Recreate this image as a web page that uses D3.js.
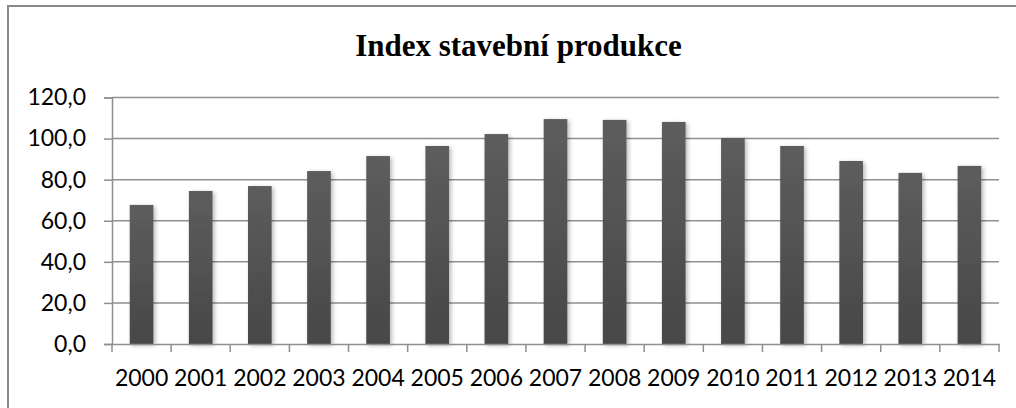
<!DOCTYPE html>
<html><head><meta charset="utf-8">
<script src="https://cdn.jsdelivr.net/npm/d3@7"></script>
<style>
html,body{margin:0;padding:0;background:#fff;}
svg{display:block;}
</style></head>
<body>
<svg id="chart" width="1016" height="408"></svg>
<script>
const title = "Index stavební produkce";
const years = ["2000","2001","2002","2003","2004","2005","2006","2007","2008","2009","2010","2011","2012","2013","2014"];
const values = [67.7,74.5,76.9,84.2,91.5,96.4,102.2,109.5,109.1,108.1,100.3,96.4,89.1,83.3,86.7];
const yTicks = [0,20,40,60,80,100,120];

const svg = d3.select("#chart");
const plot = {left:112, right:999, top:97.5, bottom:344};

const defs = svg.append("defs");
const grad = defs.append("linearGradient").attr("id","barGrad").attr("x1",0).attr("y1",0).attr("x2",0).attr("y2",1);
grad.append("stop").attr("offset","0%").attr("stop-color","#5d5d5d");
grad.append("stop").attr("offset","100%").attr("stop-color","#474747");
const f = defs.append("filter").attr("id","shadow").attr("x","-30%").attr("y","-10%").attr("width","170%").attr("height","130%");
f.append("feDropShadow").attr("dx",2).attr("dy",1.5).attr("stdDeviation",2).attr("flood-color","#000").attr("flood-opacity",0.28);

// frame
svg.append("rect").attr("x",8).attr("y",6).attr("width",1100).attr("height",500)
  .attr("fill","#fff").attr("stroke","#8a8a8a").attr("stroke-width",2);

const x = d3.scaleBand().domain(years).range([plot.left, plot.right]).paddingInner(0).paddingOuter(0);
const y = d3.scaleLinear().domain([0,120]).range([plot.bottom, plot.top]);

const loc = d3.formatLocale({decimal:",", thousands:"\u00a0", grouping:[3], currency:["",""]});
const fmt = loc.format(".1f");
const labelFont = "Lato, 'Open Sans', sans-serif";
const labelSize = 23;

// gridlines
svg.append("g").selectAll("line").data(yTicks.filter(d=>d>0)).join("line")
  .attr("x1",plot.left).attr("x2",plot.right)
  .attr("y1",d=>y(d)).attr("y2",d=>y(d))
  .attr("stroke","#8f8f8f").attr("stroke-width",1.5);

// y axis
const yAxis = d3.axisLeft(y).tickValues(yTicks).tickFormat(fmt).tickSize(8).tickPadding(18);
const gy = svg.append("g").attr("transform",`translate(${plot.left},0)`).call(yAxis);
gy.select(".domain").attr("stroke","#8f8f8f").attr("stroke-width",1.5);
gy.selectAll(".tick line").attr("stroke","#8f8f8f").attr("stroke-width",1.5);
gy.selectAll(".tick text").attr("font-family",labelFont).attr("font-size",labelSize).attr("fill","#000");

// bars
const bw = x.bandwidth()*0.4;
svg.append("g").selectAll("rect").data(values).join("rect")
  .attr("x",(d,i)=>x(years[i]) + (x.bandwidth()-bw)/2)
  .attr("y",d=>y(d))
  .attr("width",bw)
  .attr("height",d=>y(0)-y(d))
  .attr("fill","url(#barGrad)")
  .attr("filter","url(#shadow)");

// x axis
const xAxis = d3.axisBottom(x).tickSize(0).tickPadding(26);
const gx = svg.append("g").attr("transform",`translate(0,${plot.bottom})`).call(xAxis);
gx.select(".domain").attr("stroke","#8f8f8f").attr("stroke-width",1.5);
gx.selectAll(".tick text").attr("font-family",labelFont).attr("font-size",labelSize).attr("fill","#000");
const bounds = years.map(d=>x(d)).concat([x(years[years.length-1])+x.bandwidth()]);
gx.append("g").selectAll("line").data(bounds).join("line")
  .attr("x1",d=>d).attr("x2",d=>d).attr("y1",0).attr("y2",8)
  .attr("stroke","#8f8f8f").attr("stroke-width",1.5);

// title
svg.append("text").attr("x",518.5).attr("y",56).attr("text-anchor","middle")
  .attr("font-family","'Liberation Serif', 'Times New Roman', serif").attr("font-weight","bold")
  .attr("font-size",31).attr("fill","#000").text(title);
</script>
</body></html>
